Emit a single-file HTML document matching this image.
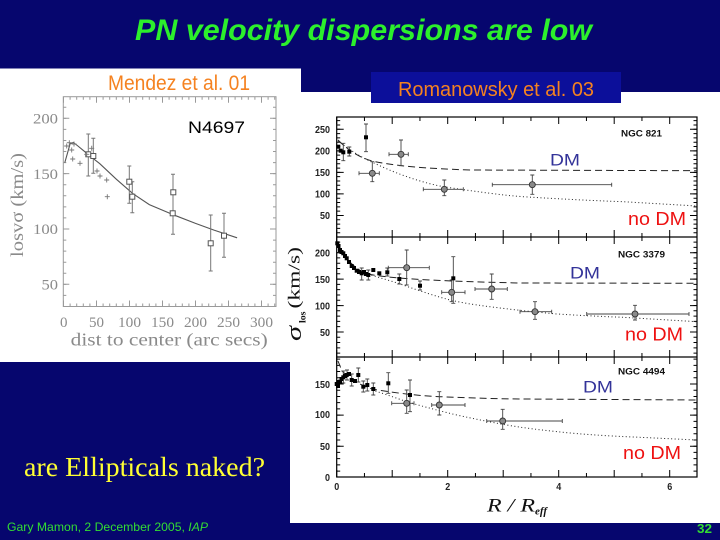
<!DOCTYPE html>
<html>
<head>
<meta charset="utf-8">
<style>
html,body{margin:0;padding:0;background:#06066e;}
body{width:720px;height:540px;overflow:hidden;position:relative;}
svg{position:absolute;left:0;top:0;}
</style>
</head>
<body>
<svg width="720" height="540" viewBox="0 0 720 540" xmlns="http://www.w3.org/2000/svg">
  <!-- background -->
  <rect x="0" y="0" width="720" height="540" fill="#06066e"/>
  <!-- title -->
  <text x="135" y="40" font-family="Liberation Sans, sans-serif" font-weight="bold" font-style="italic" font-size="30" fill="#2cf02c" textLength="457" lengthAdjust="spacingAndGlyphs">PN velocity dispersions are low</text>

  <!-- white panels -->
  <rect x="0" y="68.5" width="301" height="293.5" fill="#ffffff"/>
  <rect x="290" y="92" width="430" height="431" fill="#ffffff"/>
  <!-- Romanowsky box -->
  <rect x="371" y="72" width="250" height="31" fill="#0c0f9a"/>
  <text x="398" y="96" font-family="Liberation Sans, sans-serif" font-size="20" fill="#f58220" textLength="196" lengthAdjust="spacingAndGlyphs">Romanowsky et al. 03</text>

  <!-- ===== Left chart (Mendez) ===== -->
  <text x="108" y="90" font-family="Liberation Sans, sans-serif" font-size="21" fill="#f58220" textLength="142" lengthAdjust="spacingAndGlyphs">Mendez et al. 01</text>
  <rect x="63.3" y="96.7" width="212.7" height="209.8" fill="none" stroke="#9a9a9a" stroke-width="1"/>
  <!-- x ticks bottom/top -->
  <g stroke="#9a9a9a" fill="none">
    <line x1="63" y1="305" x2="276" y2="305" stroke-width="3" stroke-dasharray="1 5.6"/>
    <line x1="63" y1="303.5" x2="276" y2="303.5" stroke-width="6" stroke-dasharray="1 32"/>
    <line x1="63" y1="98.2" x2="276" y2="98.2" stroke-width="3" stroke-dasharray="1 5.6"/>
    <line x1="63" y1="99.7" x2="276" y2="99.7" stroke-width="6" stroke-dasharray="1 32"/>
    <line x1="64.8" y1="295.9" x2="64.8" y2="96.7" stroke-width="3" stroke-dasharray="1 10.067"/>
    <line x1="66.3" y1="284.8" x2="66.3" y2="96.7" stroke-width="6" stroke-dasharray="1 54.33"/>
    <line x1="274.5" y1="295.9" x2="274.5" y2="96.7" stroke-width="3" stroke-dasharray="1 10.067"/>
    <line x1="273" y1="284.8" x2="273" y2="96.7" stroke-width="6" stroke-dasharray="1 54.33"/>
  </g>
  <g font-family="Liberation Serif, serif" font-size="15" fill="#8a8a8a">
    <text x="33" y="123.5" textLength="25" lengthAdjust="spacingAndGlyphs">200</text>
    <text x="33" y="178.8" textLength="25" lengthAdjust="spacingAndGlyphs">150</text>
    <text x="33" y="234.2" textLength="25" lengthAdjust="spacingAndGlyphs">100</text>
    <text x="41.5" y="289.5" textLength="16.5" lengthAdjust="spacingAndGlyphs">50</text>
    <text x="60" y="327" textLength="7.5" lengthAdjust="spacingAndGlyphs">0</text>
    <text x="89" y="327" textLength="15" lengthAdjust="spacingAndGlyphs">50</text>
    <text x="118" y="327" textLength="23" lengthAdjust="spacingAndGlyphs">100</text>
    <text x="151" y="327" textLength="23" lengthAdjust="spacingAndGlyphs">150</text>
    <text x="184" y="327" textLength="23" lengthAdjust="spacingAndGlyphs">200</text>
    <text x="217" y="327" textLength="23" lengthAdjust="spacingAndGlyphs">250</text>
    <text x="250" y="327" textLength="23" lengthAdjust="spacingAndGlyphs">300</text>
    <text x="70.7" y="345.5" font-size="18" textLength="197" lengthAdjust="spacingAndGlyphs">dist to center (arc secs)</text>
    <text transform="translate(23,257) rotate(-90)" x="0" y="0" font-size="18" textLength="104" lengthAdjust="spacingAndGlyphs">losvσ (km/s)</text>
  </g>
  <text x="188" y="133" font-family="Liberation Sans, sans-serif" font-size="17" fill="#000" textLength="57" lengthAdjust="spacingAndGlyphs">N4697</text>
  <!-- model curve -->
  <polyline fill="none" stroke="#555" stroke-width="1.1" points="64.8,162.6 70.1,143.8 73.4,142.5 76.7,145 83.3,150.4 89.9,155.9 99.8,163.7 116.3,179.2 132.8,193.6 149.3,204.6 175.7,215.7 195.5,223.4 214,230.1 237.1,237.8"/>
  <!-- error bars -->
  <path fill="none" stroke="#777" stroke-width="1" d="M88.3,134V176M86.3,134h4M86.3,176h4
    M93.3,138.3V173.3M91.3,138.3h4M91.3,173.3h4
    M129.3,166V203.3M127.3,166h4M127.3,203.3h4
    M132.3,181.7V212.7M130.3,181.7h4M130.3,212.7h4
    M173,174.3V234.3M171,174.3h4M171,234.3h4
    M210.7,215V271M208.7,215h4M208.7,271h4
    M224,213.3V257.3M222,213.3h4M222,257.3h4"/>
  <g fill="#fff" stroke="#555" stroke-width="1">
    <rect x="85.8" y="151.8" width="5" height="5"/>
    <rect x="90.8" y="153.5" width="5" height="5"/>
    <rect x="126.8" y="179.2" width="5" height="5"/>
    <rect x="129.8" y="194.2" width="5" height="5"/>
    <rect x="170.8" y="189.8" width="5" height="5"/>
    <rect x="170.2" y="210.8" width="5" height="5"/>
    <rect x="208.2" y="240.8" width="5" height="5"/>
    <rect x="221.5" y="233.2" width="5" height="5"/>
  </g>
  <path fill="none" stroke="#777" stroke-width="0.9" d="M64.2,146h5M66.7,143.5v5
    M66.8,142.7h5M69.3,140.2v5
    M69.2,150h5M71.7,147.5v5
    M71.5,144h5M74,141.5v5
    M70.2,159h5M72.7,156.5v5
    M77.5,163.3h5M80,160.8v5
    M84.2,154.3h5M86.7,151.8v5
    M89.2,148.3h5M91.7,145.8v5
    M97.5,176h5M100,173.5v5
    M104.2,180h5M106.7,177.5v5
    M104.8,196.7h5M107.3,194.2v5
    M94.5,171h5M97,168.5v5"/>

  <!-- ===== Right chart (Romanowsky) ===== -->
  <g fill="none" stroke="#000">
    <rect x="336.7" y="117" width="360.3" height="360" stroke-width="1.2"/>
    <line x1="336.7" y1="237" x2="697" y2="237" stroke-width="1.2"/>
    <line x1="336.7" y1="357" x2="697" y2="357" stroke-width="1.2"/>
    <!-- x ticks -->
    <line x1="336.2" y1="473.5" x2="697" y2="473.5" stroke-width="7" stroke-dasharray="1 54.5"/>
    <line x1="363.95" y1="475" x2="697" y2="475" stroke-width="4" stroke-dasharray="1 54.5"/>
    <line x1="336.2" y1="357" x2="697" y2="357" stroke-width="14" stroke-dasharray="1 54.5"/>
    <line x1="363.95" y1="357" x2="697" y2="357" stroke-width="8" stroke-dasharray="1 54.5"/>
    <line x1="336.2" y1="237" x2="697" y2="237" stroke-width="14" stroke-dasharray="1 54.5"/>
    <line x1="363.95" y1="237" x2="697" y2="237" stroke-width="8" stroke-dasharray="1 54.5"/>
    <line x1="336.2" y1="120.5" x2="697" y2="120.5" stroke-width="7" stroke-dasharray="1 54.5"/>
    <line x1="363.95" y1="119" x2="697" y2="119" stroke-width="4" stroke-dasharray="1 54.5"/>
    <!-- panel1 y ticks -->
    <line x1="338.45" y1="233.19" x2="338.45" y2="117" stroke-width="3.5" stroke-dasharray="1 3.308"/>
    <line x1="340.2" y1="215.96" x2="340.2" y2="117" stroke-width="7" stroke-dasharray="1 20.54"/>
    <line x1="695.25" y1="233.19" x2="695.25" y2="117" stroke-width="3.5" stroke-dasharray="1 3.308"/>
    <line x1="693.5" y1="215.96" x2="693.5" y2="117" stroke-width="7" stroke-dasharray="1 20.54"/>
    <!-- panel2 y ticks -->
    <line x1="338.45" y1="353.6" x2="338.45" y2="237" stroke-width="3.5" stroke-dasharray="1 4.287"/>
    <line x1="340.2" y1="332.5" x2="340.2" y2="237" stroke-width="7" stroke-dasharray="1 25.435"/>
    <line x1="695.25" y1="353.6" x2="695.25" y2="237" stroke-width="3.5" stroke-dasharray="1 4.287"/>
    <line x1="693.5" y1="332.5" x2="693.5" y2="237" stroke-width="7" stroke-dasharray="1 25.435"/>
    <!-- panel3 y ticks -->
    <line x1="338.45" y1="471.58" x2="338.45" y2="357" stroke-width="3.5" stroke-dasharray="1 5.22"/>
    <line x1="340.2" y1="446.7" x2="340.2" y2="357" stroke-width="7" stroke-dasharray="1 30.1"/>
    <line x1="695.25" y1="471.58" x2="695.25" y2="357" stroke-width="3.5" stroke-dasharray="1 5.22"/>
    <line x1="693.5" y1="446.7" x2="693.5" y2="357" stroke-width="7" stroke-dasharray="1 30.1"/>
  </g>

  <!-- tick labels -->
  <g font-family="Liberation Sans, sans-serif" font-weight="bold" font-size="10" fill="#222">
    <text x="315" y="133" textLength="15" lengthAdjust="spacingAndGlyphs">250</text>
    <text x="315" y="154.5" textLength="15" lengthAdjust="spacingAndGlyphs">200</text>
    <text x="315" y="176" textLength="15" lengthAdjust="spacingAndGlyphs">150</text>
    <text x="315" y="197.5" textLength="15" lengthAdjust="spacingAndGlyphs">100</text>
    <text x="320" y="219" textLength="10" lengthAdjust="spacingAndGlyphs">50</text>

    <text x="315" y="256.5" textLength="15" lengthAdjust="spacingAndGlyphs">200</text>
    <text x="315" y="283" textLength="15" lengthAdjust="spacingAndGlyphs">150</text>
    <text x="315" y="309.3" textLength="15" lengthAdjust="spacingAndGlyphs">100</text>
    <text x="320" y="335.8" textLength="10" lengthAdjust="spacingAndGlyphs">50</text>

    <text x="315" y="387.8" textLength="15" lengthAdjust="spacingAndGlyphs">150</text>
    <text x="315" y="418.2" textLength="15" lengthAdjust="spacingAndGlyphs">100</text>
    <text x="320" y="449.8" textLength="10" lengthAdjust="spacingAndGlyphs">50</text>
    <text x="325" y="481" textLength="5" lengthAdjust="spacingAndGlyphs">0</text>

    <text x="334.2" y="490" textLength="5" lengthAdjust="spacingAndGlyphs">0</text>
    <text x="445.2" y="490" textLength="5" lengthAdjust="spacingAndGlyphs">2</text>
    <text x="556.2" y="490" textLength="5" lengthAdjust="spacingAndGlyphs">4</text>
    <text x="667.2" y="490" textLength="5" lengthAdjust="spacingAndGlyphs">6</text>

    <text x="621" y="136.5" font-size="9" fill="#111" textLength="41" lengthAdjust="spacingAndGlyphs">NGC 821</text>
    <text x="618" y="257.5" font-size="9" fill="#111" textLength="47" lengthAdjust="spacingAndGlyphs">NGC 3379</text>
    <text x="618" y="374.5" font-size="9" fill="#111" textLength="47" lengthAdjust="spacingAndGlyphs">NGC 4494</text>
  </g>

  <!-- axis labels -->
  <g font-family="Liberation Serif, serif" fill="#111">
    <text transform="translate(301,341) rotate(-90)" font-size="22" font-style="italic" textLength="15" lengthAdjust="spacingAndGlyphs">σ</text>
    <text transform="translate(305.5,323) rotate(-90)" font-size="9" font-weight="bold" textLength="11.5" lengthAdjust="spacingAndGlyphs">los</text>
    <text transform="translate(299.5,308.5) rotate(-90)" font-size="17" textLength="61.5" lengthAdjust="spacingAndGlyphs">(km/s)</text>
    <text x="487" y="511.5" font-size="19" font-style="italic" textLength="48" lengthAdjust="spacingAndGlyphs">R / R</text>
    <text x="535" y="514.5" font-size="10" font-style="italic" font-weight="bold" textLength="12" lengthAdjust="spacingAndGlyphs">eff</text>
  </g>

  <!-- model curves -->
  <g fill="none" stroke="#222" stroke-width="1">
    <path stroke-dasharray="7 4" d="M338,140 C348,150 358,157 372,161 C395,166 425,168.5 470,170 L697,170.7"/>
    <path stroke-dasharray="1 2.5" d="M338,141 C350,150 362,158 372,162 C390,171 420,183 447,187.3 C480,192 500,195 523,196.7 C560,199 590,200.5 623,201.7 L697,206"/>
    <path stroke-dasharray="7 4" d="M337,244 C345,258 355,270 368,274 C380,276.5 400,278.5 430,280 C460,281.5 490,282.3 520,283 L697,283.3"/>
    <path stroke-dasharray="1 2.5" d="M368,274 C380,278 392,281 403,285 C420,291 435,296 450,300 C465,303.5 480,305.5 490,306.7 C515,310 535,312 557,314 C590,316 610,316.8 623,317.3 L697,321.7"/>
    <path stroke-dasharray="7 4" d="M338,361 C340,366 341,369 343,372 C352,380 362,386 372,389 C395,393 420,396 440,396.7 C470,397.8 500,399 523,399 L697,400"/>
    <path stroke-dasharray="1 2.5" d="M372,390 C385,394 396,398 406.7,401.7 C425,407 440,411 456.7,415 C475,419 490,422 506.7,425 C530,429 550,431 573.3,433.3 C600,435.5 620,436.5 640,437.3 L697,440"/>
  </g>

  <!-- error bars -->
  <path fill="none" stroke="#444" stroke-width="0.9" d="
    M343.3,143.3V160.7M341.3,143.3h4M341.3,160.7h4
    M366,124V151.7M364,124h4M364,151.7h4
    M349.3,147V156M347.3,147h4M347.3,156h4
    M372.3,161.7V181.7M370.3,161.7h4M370.3,181.7h4M359,173.3H379.3M359,171.3v4M379.3,171.3v4
    M401,140V165.7M399,140h4M399,165.7h4M389,154.3H408.3M389,152.3v4M408.3,152.3v4
    M444.3,180V195.7M442.3,180h4M442.3,195.7h4M423.3,189.3H463.3M423.3,187.3v4M463.3,187.3v4
    M532.3,175V194.3M530.3,175h4M530.3,194.3h4M492.3,184.7H611.7M492.3,182.7v4M611.7,182.7v4

    M361.7,268V280M359.7,268h4M359.7,280h4
    M368.3,270V280M366.3,270h4M366.3,280h4
    M387.3,268V276M385.3,268h4M385.3,276h4
    M399.3,274V284M397.3,274h4M397.3,284h4
    M420,281V290M418,281h4M418,290h4
    M453.3,256.7V303.3M451.3,256.7h4M451.3,303.3h4
    M406.7,250V285M404.7,250h4M404.7,285h4M388.3,267.7H429.3M388.3,265.7v4M429.3,265.7v4
    M451.7,280V301.7M449.7,280h4M449.7,301.7h4M441.7,292.3H465M441.7,290.3v4M465,290.3v4
    M491.7,274V299.3M489.7,274h4M489.7,299.3h4M475,289H507.3M475,287v4M507.3,287v4
    M535,301.7V319.3M533,301.7h4M533,319.3h4M520,311.7H551.7M520,309.7v4M551.7,309.7v4
    M635,305.3V320M633,305.3h4M633,320h4M586.7,314H689M586.7,312v4M689,312v4

    M343.3,371V383M341.3,371h4M341.3,383h4
    M347,370V380M345,370h4M345,380h4
    M351.7,374V386M349.7,374h4M349.7,386h4
    M358.3,368V382M356.3,368h4M356.3,382h4
    M363.3,381V392M361.3,381h4M361.3,392h4
    M367.3,379V391M365.3,379h4M365.3,391h4
    M373.3,383V395M371.3,383h4M371.3,395h4
    M388.3,372.7V393.3M386.3,372.7h4M386.3,393.3h4
    M410,380V411.7M408,380h4M408,411.7h4
    M406.7,390V413.3M404.7,390h4M404.7,413.3h4M391.7,403.3H414M391.7,401.3v4M414,401.3v4
    M439.3,391.7V415M437.3,391.7h4M437.3,415h4M431.7,405H465M431.7,403v4M465,403v4
    M502.7,409.3V429.3M500.7,409.3h4M500.7,429.3h4M486.7,421H562.3M486.7,419v4M562.3,419v4"/>

  <!-- filled squares -->
  <g fill="#000">
    <rect x="336.3" y="144.7" width="4" height="4"/>
    <rect x="338.7" y="148.7" width="4" height="4"/>
    <rect x="341.3" y="150.3" width="4" height="4"/>
    <rect x="347.3" y="149.7" width="4" height="4"/>
    <rect x="364" y="135.3" width="4" height="4"/>

    <rect x="335.3" y="241.3" width="4" height="4"/>
    <rect x="336.5" y="244" width="4" height="4"/>
    <rect x="338" y="248" width="4" height="4"/>
    <rect x="339.5" y="250" width="4" height="4"/>
    <rect x="341.3" y="251.3" width="4" height="4"/>
    <rect x="343" y="254" width="4" height="4"/>
    <rect x="344.7" y="256.3" width="4" height="4"/>
    <rect x="347" y="260" width="4" height="4"/>
    <rect x="349.7" y="264" width="4" height="4"/>
    <rect x="352" y="266" width="4" height="4"/>
    <rect x="354.7" y="268.7" width="4" height="4"/>
    <rect x="357" y="270" width="4" height="4"/>
    <rect x="359.7" y="271.3" width="4" height="4"/>
    <rect x="362" y="270" width="4" height="4"/>
    <rect x="364" y="272" width="4" height="4"/>
    <rect x="366.3" y="273" width="4" height="4"/>
    <rect x="371.3" y="268" width="4" height="4"/>
    <rect x="377.3" y="271.3" width="4" height="4"/>
    <rect x="385.3" y="270.3" width="4" height="4"/>
    <rect x="397.3" y="277" width="4" height="4"/>
    <rect x="418" y="283.7" width="4" height="4"/>
    <rect x="451.3" y="276.3" width="4" height="4"/>

    <rect x="334.7" y="382" width="4" height="4"/>
    <rect x="336" y="384" width="4" height="4"/>
    <rect x="337" y="380" width="4" height="4"/>
    <rect x="338" y="379.7" width="4" height="4"/>
    <rect x="339.5" y="377" width="4" height="4"/>
    <rect x="341.3" y="375.3" width="4" height="4"/>
    <rect x="343" y="374" width="4" height="4"/>
    <rect x="344.7" y="373" width="4" height="4"/>
    <rect x="347" y="372" width="4" height="4"/>
    <rect x="349.7" y="378" width="4" height="4"/>
    <rect x="353" y="379" width="4" height="4"/>
    <rect x="356.3" y="373" width="4" height="4"/>
    <rect x="361.3" y="384.7" width="4" height="4"/>
    <rect x="365.3" y="383" width="4" height="4"/>
    <rect x="371.3" y="387" width="4" height="4"/>
    <rect x="386.3" y="381.3" width="4" height="4"/>
    <rect x="408" y="393" width="4" height="4"/>
  </g>
  <!-- open grey points -->
  <g fill="#8a8a8a" stroke="#333" stroke-width="0.9">
    <circle cx="372.3" cy="173.3" r="3"/>
    <circle cx="401" cy="154.3" r="3"/>
    <circle cx="444.3" cy="189.3" r="3"/>
    <circle cx="532.3" cy="184.7" r="3"/>
    <circle cx="406.7" cy="267.7" r="3"/>
    <circle cx="451.7" cy="292.3" r="3"/>
    <circle cx="491.7" cy="289" r="3"/>
    <circle cx="535" cy="311.7" r="3"/>
    <circle cx="635" cy="314" r="3"/>
    <circle cx="406.7" cy="403.3" r="3"/>
    <circle cx="439.3" cy="405" r="3"/>
    <circle cx="502.7" cy="421" r="3"/>
  </g>

  <!-- DM / no DM labels -->
  <g font-family="Liberation Sans, sans-serif">
    <text x="550" y="165.5" font-size="17" fill="#333399" textLength="30" lengthAdjust="spacingAndGlyphs">DM</text>
    <text x="628" y="225" font-size="18" fill="#ee1111" textLength="58" lengthAdjust="spacingAndGlyphs">no DM</text>
    <text x="570" y="278.5" font-size="17" fill="#333399" textLength="30" lengthAdjust="spacingAndGlyphs">DM</text>
    <text x="625" y="340.5" font-size="18" fill="#ee1111" textLength="58" lengthAdjust="spacingAndGlyphs">no DM</text>
    <text x="583" y="392.5" font-size="17" fill="#333399" textLength="30" lengthAdjust="spacingAndGlyphs">DM</text>
    <text x="623" y="459" font-size="18" fill="#ee1111" textLength="58" lengthAdjust="spacingAndGlyphs">no DM</text>
  </g>

  <!-- bottom-left text -->
  <text x="24" y="476" font-family="Liberation Serif, serif" font-size="27" fill="#ffff33" textLength="241" lengthAdjust="spacingAndGlyphs">are Ellipticals naked?</text>

  <!-- footer -->
  <text x="7" y="531" font-family="Liberation Sans, sans-serif" font-size="12" fill="#33dd33" textLength="201" lengthAdjust="spacingAndGlyphs">Gary Mamon, 2 December 2005, <tspan font-style="italic">IAP</tspan></text>
  <text x="697" y="533" font-family="Liberation Sans, sans-serif" font-weight="bold" font-size="13" fill="#33dd33" textLength="15" lengthAdjust="spacingAndGlyphs">32</text>
</svg>
</body>
</html>
